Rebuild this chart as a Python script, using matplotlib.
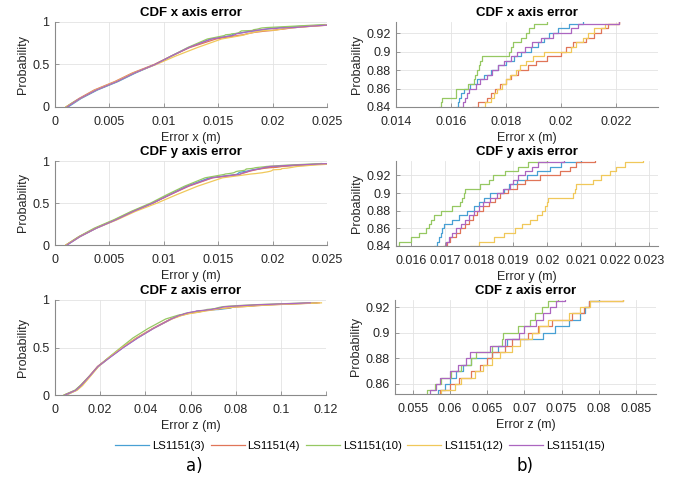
import matplotlib
matplotlib.use('Agg')
import matplotlib.pyplot as plt
from matplotlib.ticker import FuncFormatter
import numpy as np

plt.rcParams['font.family'] = ['Liberation Sans', 'DejaVu Sans']

SERIES = ['LS1151(3)', 'LS1151(4)', 'LS1151(10)', 'LS1151(12)', 'LS1151(15)']
COLORS = ['#48a0d4', '#e07558', '#96c862', '#f0c85a', '#ac66c0']

# probability levels of the empirical CDFs
PROB = [0, .05, .1, .2, .3, .4, .5, .6, .7, .8,
        .84, .845, .85, .855, .86, .865, .87, .875, .88, .885,
        .89, .895, .90, .905, .91, .915, .92, .925, .93, .935,
        .94, .95, .97]

# error (m) reached at each probability level, x axis
ERR_X_3 = [0.0012, 0.0018, 0.0024, 0.0039, 0.0058, 0.0074, 0.0092, 0.0107, 0.0123, 0.0143,
           0.0162, 0.01625, 0.01628, 0.01637, 0.01646, 0.0167, 0.01695, 0.0172, 0.01744, 0.0177,
           0.01799, 0.0183, 0.01854, 0.0189, 0.01915, 0.0194, 0.01957, 0.01988, 0.0203, 0.0208,
           0.0215, 0.0226, 0.0258]
ERR_X_4 = [0.001, 0.0016, 0.0022, 0.0036, 0.0055, 0.0071, 0.0091, 0.0107, 0.0124, 0.0148,
           0.01675, 0.0170, 0.0173, 0.01745, 0.0176, 0.0178, 0.0180, 0.0182, 0.01845, 0.0188,
           0.0191, 0.0195, 0.0200, 0.0202, 0.02045, 0.0209, 0.0212, 0.02146, 0.0217, 0.0221,
           0.0226, 0.0236, 0.026]
ERR_X_10 = [0.001, 0.0016, 0.0023, 0.0038, 0.0057, 0.0073, 0.0092, 0.0107, 0.0122, 0.0140,
            0.01555, 0.01563, 0.01567, 0.01617, 0.0162, 0.01661, 0.01683, 0.01689, 0.01695, 0.01701,
            0.01707, 0.01713, 0.01811, 0.0182, 0.01827, 0.01854, 0.01872, 0.01884, 0.01902, 0.0195,
            0.0203, 0.0218, 0.0248]
ERR_X_12 = [0.001, 0.0017, 0.0023, 0.0037, 0.0056, 0.0072, 0.0093, 0.0111, 0.0131, 0.0153,
            0.0171, 0.01725, 0.01744, 0.01755, 0.01768, 0.01785, 0.01799, 0.01815, 0.01835, 0.0185,
            0.01872, 0.0190, 0.01939, 0.02037, 0.02055, 0.0208, 0.02098, 0.02122, 0.02159, 0.0221,
            0.0226, 0.0235, 0.0258]
ERR_X_15 = [0.0011, 0.0017, 0.0023, 0.0038, 0.0057, 0.0073, 0.0092, 0.0107, 0.0123, 0.0144,
            0.0163, 0.01645, 0.01652, 0.0166, 0.01665, 0.0169, 0.01707, 0.0173, 0.0175, 0.0177,
            0.01793, 0.0182, 0.01841, 0.0187, 0.01896, 0.01927, 0.0197, 0.02037, 0.02061, 0.0221,
            0.0225, 0.0234, 0.0258]

# y axis
ERR_Y_3 = [0.0011, 0.0017, 0.0023, 0.0038, 0.0056, 0.0072, 0.0090, 0.0105, 0.0121, 0.0142,
           0.01666, 0.01675, 0.01681, 0.01686, 0.0169, 0.01697, 0.0172, 0.0174, 0.01764, 0.01783,
           0.01798, 0.01815, 0.01832, 0.01871, 0.01886, 0.0191, 0.01939, 0.01968, 0.02007, 0.02041,
           0.0210, 0.0222, 0.0256]
ERR_Y_4 = [0.001, 0.0016, 0.0022, 0.0037, 0.0055, 0.0071, 0.0090, 0.0106, 0.0123, 0.0145,
           0.01694, 0.01705, 0.01715, 0.0173, 0.01744, 0.01757, 0.01769, 0.0178, 0.01793, 0.0181,
           0.01827, 0.01845, 0.01861, 0.01885, 0.0191, 0.01934, 0.01978, 0.02037, 0.02066, 0.02085,
           0.0214, 0.0225, 0.0258]
ERR_Y_10 = [0.001, 0.0016, 0.0022, 0.0036, 0.0054, 0.0070, 0.0088, 0.0103, 0.0119, 0.0138,
            0.01555, 0.01565, 0.01598, 0.01622, 0.01642, 0.01652, 0.01657, 0.01666, 0.01686, 0.0172,
            0.01744, 0.01749, 0.01754, 0.01757, 0.01803, 0.01827, 0.0184, 0.01875, 0.01915, 0.01944,
            0.0200, 0.0212, 0.0245]
ERR_Y_12 = [0.001, 0.0017, 0.0023, 0.0038, 0.0057, 0.0074, 0.0094, 0.0112, 0.0131, 0.0154,
            0.01773, 0.01798, 0.01842, 0.01871, 0.01905, 0.01925, 0.01949, 0.01968, 0.01983, 0.01993,
            0.01998, 0.02002, 0.02076, 0.02081, 0.02085, 0.02134, 0.02158, 0.02183, 0.02202, 0.02227,
            0.0228, 0.0236, 0.0262]
ERR_Y_15 = [0.0011, 0.0017, 0.0023, 0.0038, 0.0056, 0.0072, 0.0090, 0.0106, 0.0122, 0.0144,
            0.01696, 0.01703, 0.0171, 0.0172, 0.0173, 0.01745, 0.01759, 0.0177, 0.01783, 0.01798,
            0.01812, 0.0183, 0.01851, 0.0187, 0.0189, 0.019, 0.01915, 0.01935, 0.01954, 0.01973,
            0.0205, 0.0218, 0.0252]

# z axis
ERR_Z_3 = [0.005, 0.0095, 0.012, 0.0155, 0.0192, 0.0245, 0.0302, 0.0365, 0.0435, 0.0515,
           0.0555, 0.0565, 0.0575, 0.05838, 0.05928, 0.05995, 0.06086, 0.06176, 0.06288, 0.06559,
           0.06649, 0.06761, 0.0725, 0.07414, 0.07595, 0.07752, 0.0782, 0.07865, 0.0800, 0.0835,
           0.087, 0.094, 0.116]
ERR_Z_4 = [0.004, 0.009, 0.0113, 0.0152, 0.0188, 0.0242, 0.0298, 0.036, 0.0432, 0.0512,
           0.056, 0.057, 0.058, 0.0586, 0.05995, 0.0612, 0.06288, 0.06401, 0.06491, 0.06559,
           0.06739, 0.06829, 0.07054, 0.07189, 0.0737, 0.0764, 0.07797, 0.07865, 0.0832, 0.0865,
           0.089, 0.096, 0.117]
ERR_Z_10 = [0.004, 0.0088, 0.0112, 0.0153, 0.019, 0.024, 0.0292, 0.0345, 0.0412, 0.049,
            0.0545, 0.0555, 0.0565, 0.05694, 0.05793, 0.05883, 0.06018, 0.06153, 0.06288, 0.06356,
            0.06559, 0.06694, 0.06716, 0.06919, 0.07077, 0.07144, 0.07234, 0.07324, 0.0745, 0.077,
            0.080, 0.088, 0.112]
ERR_Z_12 = [0.005, 0.0098, 0.0122, 0.0158, 0.0193, 0.0243, 0.0298, 0.0362, 0.0435, 0.0518,
            0.0565, 0.0575, 0.0583, 0.05883, 0.06063, 0.06153, 0.06333, 0.06446, 0.06559, 0.06671,
            0.06829, 0.06941, 0.07099, 0.0719, 0.07324, 0.07595, 0.07752, 0.07887, 0.0832, 0.0868,
            0.089, 0.097, 0.118]
ERR_Z_15 = [0.0045, 0.0092, 0.0115, 0.0154, 0.019, 0.0246, 0.0303, 0.0366, 0.0436, 0.0515,
            0.0552, 0.0562, 0.0568, 0.05725, 0.05815, 0.0586, 0.05995, 0.06108, 0.0622, 0.06266,
            0.06536, 0.06739, 0.06932, 0.06999, 0.07157, 0.07247, 0.0735, 0.0742, 0.0755, 0.079,
            0.082, 0.090, 0.113]

ERRORS = {
    'x': [ERR_X_3, ERR_X_4, ERR_X_10, ERR_X_12, ERR_X_15],
    'y': [ERR_Y_3, ERR_Y_4, ERR_Y_10, ERR_Y_12, ERR_Y_15],
    'z': [ERR_Z_3, ERR_Z_4, ERR_Z_10, ERR_Z_12, ERR_Z_15],
}

FULL_XLIM = {'x': (0, 0.025), 'y': (0, 0.025), 'z': (0, 0.12)}
FULL_XTICKS = {'x': np.arange(0, 0.0251, 0.005), 'y': np.arange(0, 0.0251, 0.005),
               'z': np.arange(0, 0.121, 0.02)}
ZOOM_XLIM = {'x': (0.014, 0.02353), 'y': (0.01555, 0.02325), 'z': (0.0526, 0.0877)}
ZOOM_XTICKS = {'x': np.arange(0.014, 0.0221, 0.002), 'y': np.arange(0.016, 0.02301, 0.001),
               'z': np.arange(0.055, 0.0851, 0.005)}
ZOOM_YLIM = {'x': (0.84, 0.932), 'y': (0.84, 0.9364), 'z': (0.8522, 0.9255)}
ZOOM_YTICKS = {'x': [0.84, 0.86, 0.88, 0.9, 0.92], 'y': [0.84, 0.86, 0.88, 0.9, 0.92],
               'z': [0.86, 0.88, 0.9, 0.92]}

W, H = 686, 483
# pixel boxes (left, top, right, bottom)
LEFT_BOX = {'x': (55, 22, 327, 107), 'y': (55, 161, 327, 245), 'z': (55, 300, 326, 395)}
RIGHT_BOX = {'x': (396, 22, 658, 107), 'y': (396, 161, 658, 246), 'z': (395, 300, 656, 394)}

fig = plt.figure(figsize=(W / 100, H / 100), dpi=100)


def add_ax(box):
    l, t, r, b = box
    return fig.add_axes([l / W, 1 - b / H, (r - l) / W, (b - t) / H])


def style(ax):
    for s in ['top', 'right']:
        ax.spines[s].set_visible(False)
    for s in ['left', 'bottom']:
        ax.spines[s].set_color('#8a8a8a')
        ax.spines[s].set_linewidth(0.8)
    ax.tick_params(direction='in', length=3, width=0.6, color='#8a8a8a',
                   labelsize=9, labelcolor='#262626')
    ax.tick_params(axis='x', pad=6.5)
    ax.tick_params(axis='y', pad=4)
    ax.grid(True, color='#e3e3e3', linewidth=0.6)
    ax.set_axisbelow(True)
    ax.xaxis.set_major_formatter(FuncFormatter(lambda v, p: '%g' % round(v, 6)))
    ax.yaxis.set_major_formatter(FuncFormatter(lambda v, p: '%g' % round(v, 6)))


for k in ['x', 'y', 'z']:
    axl = add_ax(LEFT_BOX[k])
    axr = add_ax(RIGHT_BOX[k])
    for errs, c, name in zip(ERRORS[k], COLORS, SERIES):
        axl.plot(errs, PROB, color=c, lw=0.9, label=name)
        axr.plot(errs, PROB, color=c, lw=0.9, drawstyle='steps-post')
    axl.set_xlim(*FULL_XLIM[k])
    axl.set_ylim(0, 1)
    axl.set_xticks(FULL_XTICKS[k])
    axl.set_yticks([0, 0.5, 1])
    axr.set_xlim(*ZOOM_XLIM[k])
    axr.set_ylim(*ZOOM_YLIM[k])
    axr.set_xticks(ZOOM_XTICKS[k])
    axr.set_yticks(ZOOM_YTICKS[k])
    for ax in (axl, axr):
        style(ax)
        ax.set_title('CDF %s axis error' % k, fontsize=9.5, fontweight='bold', pad=4)
        ax.set_xlabel('Error %s (m)' % k, fontsize=9, color='#262626', labelpad=3)
        ax.set_ylabel('Probability', fontsize=9, color='#262626', labelpad=2)
    if k == 'x':
        handles, labels = axl.get_legend_handles_labels()

fig.legend(handles, labels, loc='center', bbox_to_anchor=(360 / W, 1 - 446 / H), ncol=5,
           frameon=False, fontsize=8.2, handlelength=3.0, handletextpad=0.25,
           columnspacing=0.5)

fig.text(194 / W, 1 - 466 / H, 'a)', fontsize=12, family='DejaVu Sans', ha='center', va='center')
fig.text(525 / W, 1 - 466 / H, 'b)', fontsize=12, family='DejaVu Sans', ha='center', va='center')

fig.savefig('out.png', dpi=100)
